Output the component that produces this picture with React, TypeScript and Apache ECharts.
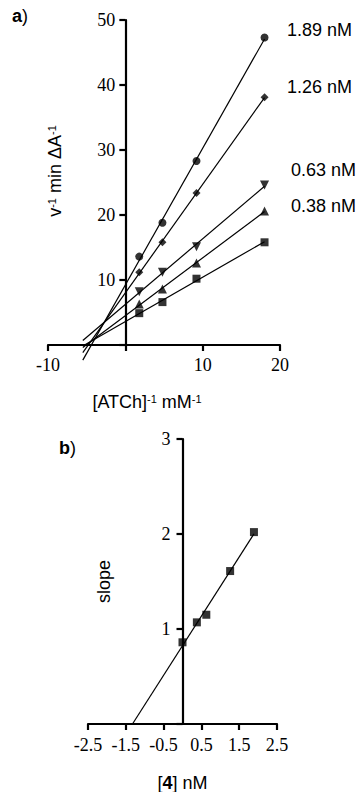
import React, { useEffect, useRef } from "react";
import * as echarts from "echarts";

// Panel a: Lineweaver-Burk data, x = [ATCh]^-1 (mM^-1)
const substrateInv = [1.8, 4.8, 9.2, 18];
const conc189 = [13.6, 18.8, 28.3, 47.3];
const conc126 = [11.2, 15.8, 23.4, 38.1];
const conc063 = [8.2, 11.2, 15.1, 24.6];
const conc038 = [6.3, 8.6, 12.6, 20.6];
const conc000 = [4.9, 6.6, 10.2, 15.8];
const seriesLabels = ["1.89 nM", "1.26 nM", "0.63 nM", "0.38 nM", ""];
const fitStartX = -5.5;

// Panel b: secondary plot
const inhibitorConc = [0, 0.38, 0.63, 1.26, 1.89];
const slopeValues = [0.86, 1.07, 1.15, 1.61, 2.02];

// Axis ranges / tick steps
const topX = { min: -10, max: 20, step: 10 };
const topY = { min: 0, max: 50, step: 10 };
const bottomX = { min: -2.5, max: 2.5, step: 1 };
const bottomY = { min: 0, max: 3, step: 1 };

const SERIF = "Liberation Serif";
const SANS = "Liberation Sans";

function fit(xs: number[], ys: number[]) {
  const n = xs.length;
  const mx = xs.reduce((a, b) => a + b, 0) / n;
  const my = ys.reduce((a, b) => a + b, 0) / n;
  let sxx = 0;
  let sxy = 0;
  for (let i = 0; i < n; i++) {
    sxx += (xs[i] - mx) * (xs[i] - mx);
    sxy += (xs[i] - mx) * (ys[i] - my);
  }
  const slope = sxy / sxx;
  return { slope, intercept: my - slope * mx };
}

export default function App() {
  const ref = useRef<HTMLDivElement>(null);
  useEffect(() => {
    if (!ref.current) return;
    const chart = echarts.init(ref.current, undefined, { renderer: "svg" });

    const topSets = [
      { ys: conc189, symbol: "circle", size: 8, rotate: 0 },
      { ys: conc126, symbol: "diamond", size: 8, rotate: 0 },
      { ys: conc063, symbol: "triangle", size: 9, rotate: 180 },
      { ys: conc038, symbol: "triangle", size: 9, rotate: 0 },
      { ys: conc000, symbol: "rect", size: 8, rotate: 0 },
    ];

    const series: any[] = [];
    topSets.forEach((s, i) => {
      const f = fit(substrateInv, s.ys);
      const xEnd = Math.max(...substrateInv);
      series.push({
        type: "line",
        name: (seriesLabels[i] || "0 nM") + " fit",
        xAxisIndex: 0,
        yAxisIndex: 0,
        data: [
          [fitStartX, f.intercept + f.slope * fitStartX],
          [xEnd, f.intercept + f.slope * xEnd],
        ],
        showSymbol: false,
        symbol: "none",
        clip: false,
        silent: true,
        lineStyle: { color: "#000", width: 1.2 },
      });
      series.push({
        type: "scatter",
        name: seriesLabels[i] || "0 nM",
        xAxisIndex: 0,
        yAxisIndex: 0,
        data: substrateInv.map((x, j) => [x, s.ys[j]]),
        symbol: s.symbol,
        symbolSize: s.size,
        symbolRotate: s.rotate,
        itemStyle: { color: "#000" },
        clip: false,
      });
    });

    const fb = fit(inhibitorConc, slopeValues);
    const xb0 = -fb.intercept / fb.slope;
    const xb1 = Math.max(...inhibitorConc);
    series.push({
      type: "line",
      name: "slope fit",
      xAxisIndex: 1,
      yAxisIndex: 1,
      data: [
        [xb0, fb.intercept + fb.slope * xb0],
        [xb1, fb.intercept + fb.slope * xb1],
      ],
      showSymbol: false,
      symbol: "none",
      clip: false,
      silent: true,
      lineStyle: { color: "#000", width: 1.2 },
    });
    series.push({
      type: "scatter",
      name: "slope",
      xAxisIndex: 1,
      yAxisIndex: 1,
      data: inhibitorConc.map((x, j) => [x, slopeValues[j]]),
      symbol: "rect",
      symbolSize: 8,
      itemStyle: { color: "#000" },
      clip: false,
    });

    const mkLine = () => ({ show: true, onZero: false, lineStyle: { color: "#000", width: 2.2 } });
    const mkTick = () => ({ show: true, length: 6, lineStyle: { color: "#000", width: 2.2 } });
    const mkLabel = (margin: number) => ({
      show: true,
      fontFamily: SERIF,
      fontSize: 18,
      color: "#000",
      margin,
      formatter: (v: number) => (Math.abs(v) < 1e-9 ? "" : String(v)),
    });

    const supRich = {
      t: { fontFamily: SANS, fontSize: 18, color: "#000" },
      s: { fontFamily: SANS, fontSize: 11, color: "#000", verticalAlign: "top" },
      b: { fontFamily: SANS, fontSize: 18, color: "#000", fontWeight: "bold" },
    };

    const labelPos = [
      { x: 287, y: 30 },
      { x: 287, y: 87 },
      { x: 291, y: 170 },
      { x: 291, y: 206 },
    ];

    const g1 = { left: 48, width: 232, top: 20, height: 325 };
    const g2 = { left: 88, width: 189, top: 439, height: 285 };
    const zeroOffset1 = (g1.width * (0 - topX.min)) / (topX.max - topX.min);
    const zeroOffset2 = (g2.width * (0 - bottomX.min)) / (bottomX.max - bottomX.min);

    chart.setOption({
      animation: false,
      backgroundColor: "#fff",
      grid: [
        { ...g1, containLabel: false, outerBoundsMode: "none" },
        { ...g2, containLabel: false, outerBoundsMode: "none" },
      ],
      xAxis: [
        {
          type: "value",
          gridIndex: 0,
          min: topX.min,
          max: topX.max,
          interval: topX.step,
          axisLine: mkLine(),
          axisTick: mkTick(),
          axisLabel: mkLabel(11),
          splitLine: { show: false },
          name: "{t|[ATCh]}{s|-1}{t| mM}{s|-1}",
          nameLocation: "middle",
          nameGap: 48,
          nameMoveOverlap: false,
          nameTextStyle: { padding: [0, 34, 0, 0], rich: supRich },
        },
        {
          type: "value",
          gridIndex: 1,
          min: bottomX.min,
          max: bottomX.max,
          interval: bottomX.step,
          axisLine: mkLine(),
          axisTick: mkTick(),
          axisLabel: mkLabel(12),
          splitLine: { show: false },
          name: "{t|[}{b|4}{t|] nM}",
          nameLocation: "middle",
          nameGap: 50,
          nameMoveOverlap: false,
          nameTextStyle: { rich: supRich },
        },
      ],
      yAxis: [
        {
          type: "value",
          gridIndex: 0,
          min: topY.min,
          max: topY.max,
          interval: topY.step,
          offset: -zeroOffset1,
          axisLine: mkLine(),
          axisTick: mkTick(),
          axisLabel: mkLabel(10),
          splitLine: { show: false },
        },
        {
          type: "value",
          gridIndex: 1,
          min: bottomY.min,
          max: bottomY.max,
          interval: bottomY.step,
          offset: -zeroOffset2,
          axisLine: mkLine(),
          axisTick: mkTick(),
          axisLabel: mkLabel(12),
          splitLine: { show: false },
          name: "{t|slope}",
          nameLocation: "middle",
          nameGap: 70,
          nameMoveOverlap: false,
          nameTextStyle: { rich: supRich },
        },
      ],
      graphic: [
        ...labelPos.map((p, i) => ({
          type: "text",
          x: p.x,
          y: p.y,
          style: {
            text: seriesLabels[i],
            font: `18px "${SANS}"`,
            fill: "#000",
            verticalAlign: "middle",
          },
        })),
        {
          type: "text",
          x: 55,
          y: 171,
          rotation: Math.PI / 2,
          style: {
            text: "{t|v}{s|-1}{t| min ΔA}{s|-1}",
            align: "center",
            verticalAlign: "middle",
            rich: supRich,
          },
        },
        {
          type: "text",
          x: 12,
          y: 16,
          style: { text: "{b|a}{t|)}", verticalAlign: "middle", rich: supRich },
        },
        {
          type: "text",
          x: 59,
          y: 448,
          style: { text: "{b|b}{t|)}", verticalAlign: "middle", rich: supRich },
        },
      ],
      series,
    });

    return () => chart.dispose();
  }, []);

  return (
    <div
      ref={ref}
      style={{ position: "fixed", left: 0, top: 0, width: 360, height: 792, background: "#fff" }}
    />
  );
}
